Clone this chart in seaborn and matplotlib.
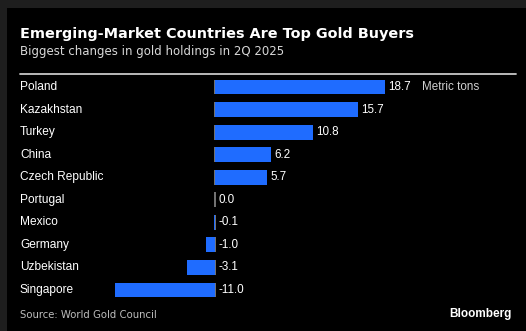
import matplotlib
matplotlib.use("Agg")
import matplotlib.pyplot as plt
import seaborn as sns
import pandas as pd

countries = ["Poland", "Kazakhstan", "Turkey", "China", "Czech Republic",
             "Portugal", "Mexico", "Germany", "Uzbekistan", "Singapore"]
changes = [18.7, 15.7, 10.8, 6.2, 5.7, 0.0, -0.1, -1.0, -3.1, -11.0]
value_labels = ["18.7", "15.7", "10.8", "6.2", "5.7", "0.0", "-0.1", "-1.0", "-3.1", "-11.0"]
unit_label = "Metric tons"

title = "Emerging-Market Countries Are Top Gold Buyers"
subtitle = "Biggest changes in gold holdings in 2Q 2025"
source = "Source: World Gold Council"
brand = "Bloomberg"

df = pd.DataFrame({"country": countries, "change": changes})

sns.set_theme(style="white")
plt.rcParams["font.family"] = ["Liberation Sans", "DejaVu Sans"]

W, H = 526, 331
fig = plt.figure(figsize=(W / 100, H / 100), dpi=100)
fig.patch.set_facecolor("#1e1e1e")

# black panel inside the dark frame
fig.add_artist(plt.Rectangle((7 / W, 0), 1, 1 - 8 / H, transform=fig.transFigure,
                             facecolor="black", edgecolor="none", zorder=0))

left_px, right_px, top_px, bot_px = 20, 516, 75.7, 301.3
ax = fig.add_axes([left_px / W, 1 - bot_px / H, (right_px - left_px) / W, (bot_px - top_px) / H])
ax.set_facecolor("none")

bar_color = "#1f6cff"
sns.barplot(data=df, y="country", x="change", orient="h", color=bar_color,
            width=0.66, saturation=1, ax=ax, order=countries,
            edgecolor="none", linewidth=0, zorder=2)

ax.set_xlim(-21.45, 33.1)
ax.set_ylim(len(countries) - 0.5, -0.5)
for s in ax.spines.values():
    s.set_visible(False)
ax.set_xticks([])
ax.set_yticks([])
ax.set_xlabel("")
ax.set_ylabel("")

# short zero markers per row, behind the bars
ys = list(range(len(countries)))
ax.vlines([0] * len(ys), [y - 0.33 for y in ys], [y + 0.33 for y in ys],
          color="#8a8a8a", lw=1.2, zorder=1)

trans = ax.get_yaxis_transform()
for y, name, val, lab in zip(ys, countries, changes, value_labels):
    ax.text(0.0, y, name, transform=trans, ha="left", va="center",
            color="white", fontsize=8.6)
    ax.text(max(val, 0) + 0.35, y, lab, ha="left", va="center",
            color="white", fontsize=8.4)
ax.text(22.8, 0, unit_label, ha="left", va="center", color="#d0d0d0", fontsize=8.4)

fig.text(20 / W, 1 - 34 / H, title, ha="left", va="center", color="white",
         fontsize=10.35, fontweight="bold", family=["DejaVu Sans"])
fig.text(20 / W, 1 - 52 / H, subtitle, ha="left", va="center", color="#d8d8d8",
         fontsize=8.5, family=["DejaVu Sans"])
fig.add_artist(plt.Line2D([20 / W, 516 / W], [1 - 74 / H, 1 - 74 / H],
                          transform=fig.transFigure, color="#c8c8c8", lw=1.3))
fig.text(20 / W, 1 - 315 / H, source, ha="left", va="center", color="#bdbdbd",
         fontsize=7.3, family=["DejaVu Sans"])
fig.text(512 / W, 1 - 314 / H, brand, ha="right", va="center", color="white",
         fontsize=8.5, fontweight="bold")

fig.savefig("out.png", dpi=100, facecolor=fig.get_facecolor())
